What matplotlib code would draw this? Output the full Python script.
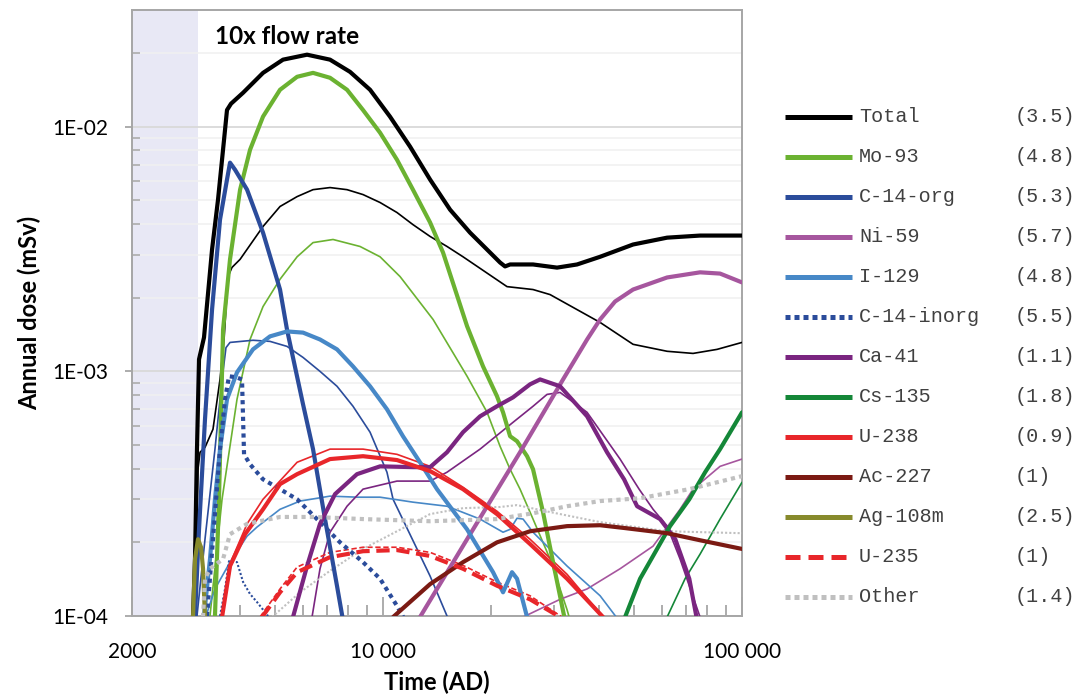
import matplotlib
matplotlib.use("Agg")
import matplotlib.pyplot as plt
from matplotlib.lines import Line2D
from matplotlib.ticker import FixedLocator, LogLocator, NullFormatter

# Annual dose per nuclide, thick = 10x flow rate case, thin = base case.
# Time in years AD, dose in mSv.
total_t = [2958, 2996, 3034, 3074, 3174, 3342, 3472, 3609, 3678, 3774, 4078, 4634, 5268, 6146, 7121,
           8096, 9206, 10460, 11900, 13530, 15380, 17480, 18640, 21190, 21880, 22600, 26180, 30540,
           34720, 40250, 49720, 61860, 76420, 100000]
total_dose = [1.0e-4, 1.71e-4, 4.81e-4, 1.12e-3, 1.377e-3, 3.15e-3, 5.03e-3, 8.85e-3, 1.17e-2, 1.242e-2,
              1.377e-2, 1.66e-2, 1.88e-2, 1.97e-2, 1.88e-2, 1.676e-2, 1.416e-2, 1.10e-2, 8.29e-3, 6.08e-3,
              4.58e-3, 3.69e-3, 3.36e-3, 2.786e-3, 2.685e-3, 2.735e-3, 2.735e-3, 2.655e-3, 2.735e-3,
              2.94e-3, 3.30e-3, 3.52e-3, 3.59e-3, 3.59e-3]
total_base_t = [2996, 3054, 3094, 3194, 3362, 3517, 3609, 3702, 3798, 4000, 4634, 5168, 5766, 6386, 7121,
                7942, 8800, 9816, 10940, 12120, 13530, 15080, 16710, 22160, 26180, 29200, 40250, 49720,
                61860, 73060, 85250, 100000]
total_base_dose = [1.0e-4, 3.98e-4, 4.67e-4, 4.89e-4, 5.80e-4, 9.27e-4, 1.35e-3, 2.44e-3, 2.66e-3, 2.87e-3,
                   3.91e-3, 4.72e-3, 5.18e-3, 5.53e-3, 5.64e-3, 5.53e-3, 5.28e-3, 4.90e-3, 4.46e-3,
                   3.98e-3, 3.56e-3, 3.24e-3, 2.94e-3, 2.22e-3, 2.16e-3, 2.06e-3, 1.585e-3, 1.29e-3,
                   1.208e-3, 1.184e-3, 1.23e-3, 1.313e-3]

mo93_t = [3405, 3494, 3586, 3750, 4000, 4264, 4634, 5168, 5766, 6386, 7121, 7942, 8800, 9816, 10940,
          12120, 13530, 14700, 17150, 19000, 20780, 21600, 22600, 23630, 25200, 26180, 27910, 29770, 32140]
mo93_dose = [1.0e-4, 3.0e-4, 1.48e-3, 2.87e-3, 5.53e-3, 8.05e-3, 1.10e-2, 1.416e-2, 1.60e-2, 1.66e-2,
             1.585e-2, 1.416e-2, 1.17e-2, 9.45e-3, 7.33e-3, 5.53e-3, 4.06e-3, 3.06e-3, 1.53e-3, 1.048e-3,
             7.91e-4, 6.8e-4, 5.43e-4, 5.18e-4, 4.50e-4, 3.98e-4, 2.66e-4, 1.66e-4, 9.6e-5]
mo93_base_t = [3298, 3563, 3922, 4264, 4634, 5168, 5766, 6386, 7260, 8632, 9816, 11160, 13790, 17150,
               19500, 21190, 22600, 24090, 26180, 29200, 32570, 33200]
mo93_base_dose = [1.0e-4, 3.0e-4, 7.69e-4, 1.35e-3, 1.84e-3, 2.38e-3, 2.94e-3, 3.36e-3, 3.46e-3, 3.24e-3,
                  2.94e-3, 2.44e-3, 1.63e-3, 9.55e-4, 6.8e-4, 4.94e-4, 3.98e-4, 3.30e-4, 2.49e-4, 1.71e-4,
                  1.06e-4, 9.6e-5]

c14org_t = [2996, 3074, 3194, 3342, 3517, 3678, 3750, 3873, 4183, 4634, 5168, 5405, 5990, 6386, 6896,
            7448, 7740]
c14org_dose = [1.0e-4, 2.26e-4, 6.37e-4, 1.79e-3, 4.17e-3, 6.08e-3, 7.13e-3, 6.67e-3, 5.53e-3, 3.69e-3,
               2.16e-3, 1.48e-3, 7.33e-4, 4.81e-4, 2.49e-4, 1.326e-4, 9.6e-5]
c14org_base_t = [3034, 3194, 3405, 3563, 3654, 3750, 4345, 4846, 5405, 5990, 6678, 7448, 8252, 9206,
                 10260, 10670, 13530, 15080]
c14org_base_dose = [1.0e-4, 2.06e-4, 4.81e-4, 9.27e-4, 1.25e-3, 1.313e-3, 1.34e-3, 1.326e-3, 1.265e-3,
                    1.14e-3, 1.0e-3, 8.69e-4, 7.20e-4, 5.64e-4, 3.87e-4, 3.0e-4, 1.456e-4, 1.0e-4]

ni59_t = [12680, 17150, 24090, 31740, 37030, 40250, 44310, 49720, 61860, 76420, 86880, 100000]
ni59_dose = [9.9e-5, 2.06e-4, 4.67e-4, 9.27e-4, 1.35e-3, 1.63e-3, 1.93e-3, 2.16e-3, 2.42e-3, 2.54e-3,
             2.51e-3, 2.31e-3]
ni59_base_t = [24560, 31140, 37030, 45750, 56540, 67220, 73060, 86880, 100000]
ni59_base_dose = [9.9e-5, 1.17e-4, 1.29e-4, 1.56e-4, 1.93e-4, 2.73e-4, 3.30e-4, 4.09e-4, 4.38e-4]

i129_t = [3174, 3298, 3405, 3517, 3678, 3922, 4345, 4846, 5405, 5990, 6678, 7448, 8252, 9206, 10260,
          11370, 12680, 14140, 17150, 20260, 21600, 22880, 23630, 25200]
i129_dose = [1.0e-4, 1.71e-4, 3.0e-4, 4.81e-4, 7.69e-4, 9.91e-4, 1.23e-3, 1.39e-3, 1.456e-3, 1.44e-3,
             1.35e-3, 1.23e-3, 1.048e-3, 8.69e-4, 7.0e-4, 5.43e-4, 4.25e-4, 3.30e-4, 2.26e-4, 1.51e-4,
             1.25e-4, 1.51e-4, 1.42e-4, 9.9e-5]
i129_base_t = [3214, 3405, 3750, 4183, 4459, 5168, 5875, 7121, 8466, 9816, 12120, 15080, 18640, 21600,
               22590, 23630, 24560, 26180, 32570, 40250, 44880]
i129_base_dose = [1.0e-4, 1.29e-4, 1.66e-4, 2.12e-4, 2.31e-4, 2.73e-4, 2.95e-4, 3.09e-4, 3.06e-4, 3.06e-4,
                  2.92e-4, 2.81e-4, 2.49e-4, 2.20e-4, 2.26e-4, 2.51e-4, 2.49e-4, 2.20e-4, 1.60e-4, 1.21e-4,
                  9.8e-5]

c14inorg_t = [3236, 3362, 3517, 3632, 3726, 3897, 4050, 4078, 4103, 4264, 4634, 5168, 5766, 6678, 7594,
              8800, 9816, 10940, 11520]
c14inorg_dose = [1.0e-4, 2.06e-4, 4.81e-4, 7.69e-4, 9.55e-4, 9.46e-4, 9.27e-4, 6.37e-4, 4.58e-4, 4.17e-4,
                 3.62e-4, 3.30e-4, 3.0e-4, 2.42e-4, 2.0e-4, 1.66e-4, 1.42e-4, 1.10e-4, 9.6e-5]
c14inorg_base_t = [3517, 3632, 3726, 3922, 4078, 4264, 4459, 4785]
c14inorg_base_dose = [1.0e-4, 1.29e-4, 1.676e-4, 1.66e-4, 1.377e-4, 1.23e-4, 1.14e-4, 1.0e-4]

ca41_t = [5616, 6146, 6678, 7355, 8466, 9816, 12120, 13530, 15080, 16710, 18640, 20780, 23030, 25680,
          27390, 31140, 37030, 42080, 46940, 51030, 59140, 65200, 71320, 74980]
ca41_dose = [9.9e-5, 1.60e-4, 2.38e-4, 3.15e-4, 3.80e-4, 4.09e-4, 4.06e-4, 4.06e-4, 4.67e-4, 5.64e-4,
             6.55e-4, 7.20e-4, 7.83e-4, 8.85e-4, 9.27e-4, 8.69e-4, 6.55e-4, 4.67e-4, 3.62e-4, 2.81e-4,
             2.49e-4, 2.06e-4, 1.42e-4, 9.6e-5]
ca41_base_t = [6345, 6678, 7121, 7942, 8800, 10940, 13530, 15080, 18640, 23030, 26180, 28640, 31140,
               37030, 45750, 51690, 56540, 61860, 67220, 76420]
ca41_base_dose = [9.9e-5, 1.56e-4, 2.20e-4, 2.81e-4, 3.30e-4, 3.56e-4, 3.56e-4, 3.87e-4, 4.81e-4, 6.19e-4,
                  7.20e-4, 8.05e-4, 8.20e-4, 6.8e-4, 4.38e-4, 3.30e-4, 2.73e-4, 2.33e-4, 1.71e-4, 9.9e-5]

cs135_t = [47240, 52010, 56540, 63040, 71320, 78940, 86880, 100000]
cs135_dose = [9.9e-5, 1.42e-4, 1.76e-4, 2.33e-4, 3.0e-4, 3.87e-4, 4.81e-4, 6.8e-4]
cs135_base_t = [61860, 69410, 76420, 86880, 100000]
cs135_base_dose = [9.9e-5, 1.42e-4, 1.79e-4, 2.49e-4, 3.52e-4]

u238_t = [3563, 3750, 4129, 4634, 5168, 5766, 7121, 8800, 10940, 13530, 16710, 20780, 25680, 32570, 41020]
u238_dose = [9.9e-5, 1.60e-4, 2.16e-4, 2.73e-4, 3.46e-4, 3.80e-4, 4.38e-4, 4.50e-4, 4.34e-4, 3.91e-4,
             3.30e-4, 2.61e-4, 1.97e-4, 1.42e-4, 9.9e-5]
u238_base_t = [3563, 3798, 4183, 4634, 5766, 7121, 8800, 10940, 13530, 16710, 20780, 25680, 32570, 41020]
u238_base_dose = [9.9e-5, 1.71e-4, 2.38e-4, 3.0e-4, 4.25e-4, 4.81e-4, 4.81e-4, 4.58e-4, 4.09e-4, 3.36e-4,
                  2.68e-4, 2.06e-4, 1.48e-4, 9.9e-5]

ac227_t = [10670, 13530, 16710, 20780, 25680, 32570, 40250, 46940, 61860, 76420, 100000]
ac227_dose = [9.9e-5, 1.35e-4, 1.66e-4, 2.0e-4, 2.22e-4, 2.33e-4, 2.35e-4, 2.29e-4, 2.18e-4, 2.04e-4,
              1.88e-4]

ag108m_t = [2958, 2996, 3054, 3114, 3154, 3194]
ag108m_dose = [9.9e-5, 1.71e-4, 2.06e-4, 1.91e-4, 1.56e-4, 9.9e-5]

u235_t = [4605, 5168, 5766, 7121, 8800, 10940, 13530, 16710, 20780, 25680, 31140]
u235_dose = [9.9e-5, 1.25e-4, 1.51e-4, 1.74e-4, 1.84e-4, 1.86e-4, 1.76e-4, 1.56e-4, 1.33e-4, 1.17e-4,
             9.9e-5]
u235_base_t = [4545, 5168, 5766, 7121, 8800, 10940, 13530, 16710, 20780, 25680, 31540]
u235_base_dose = [9.9e-5, 1.29e-4, 1.585e-4, 1.82e-4, 1.91e-4, 1.91e-4, 1.82e-4, 1.61e-4, 1.377e-4,
                  1.21e-4, 9.9e-5]

other_t = [3154, 3194, 3298, 3586, 3750, 4183, 5168, 6386, 8800, 13530, 20780, 26180, 32570, 40250,
           52010, 71320, 100000]
other_dose = [9.9e-5, 1.42e-4, 1.56e-4, 1.71e-4, 2.16e-4, 2.38e-4, 2.54e-4, 2.54e-4, 2.49e-4, 2.44e-4,
              2.49e-4, 2.63e-4, 2.81e-4, 2.95e-4, 3.03e-4, 3.30e-4, 3.73e-4]
other_base_t = [4909, 5875, 7121, 8800, 10940, 13530, 16710, 21190, 23630, 29200, 40250, 61860, 100000]
other_base_dose = [9.9e-5, 1.25e-4, 1.53e-4, 1.88e-4, 2.22e-4, 2.61e-4, 2.76e-4, 2.79e-4, 2.84e-4,
                   2.66e-4, 2.42e-4, 2.22e-4, 2.18e-4]

names = ["Total", "Mo-93", "C-14-org", "Ni-59", "I-129", "C-14-inorg", "Ca-41", "Cs-135",
         "U-238", "Ac-227", "Ag-108m", "U-235", "Other"]
legend_values = [3.5, 4.8, 5.3, 5.7, 4.8, 5.5, 1.1, 1.8, 0.9, 1, 2.5, 1, 1.4]
colors = ["#000000", "#6BB231", "#2B4C9B", "#A6569E", "#4788C7", "#2B4C9B", "#7A2580", "#148738",
          "#E8262A", "#7B1A13", "#878A2C", "#E8262A", "#C0C0C0"]
styles = ["-", "-", "-", "-", "-", "dot", "-", "-", "-", "-", "-", "dash", "dot"]

thick = [(total_t, total_dose), (mo93_t, mo93_dose), (c14org_t, c14org_dose), (ni59_t, ni59_dose),
         (i129_t, i129_dose), (c14inorg_t, c14inorg_dose), (ca41_t, ca41_dose), (cs135_t, cs135_dose),
         (u238_t, u238_dose), (ac227_t, ac227_dose), (ag108m_t, ag108m_dose), (u235_t, u235_dose),
         (other_t, other_dose)]
thin = [(total_base_t, total_base_dose), (mo93_base_t, mo93_base_dose),
        (c14org_base_t, c14org_base_dose), (ni59_base_t, ni59_base_dose),
        (i129_base_t, i129_base_dose), (c14inorg_base_t, c14inorg_base_dose),
        (ca41_base_t, ca41_base_dose), (cs135_base_t, cs135_base_dose),
        (u238_base_t, u238_base_dose), None, None, (u235_base_t, u235_base_dose),
        (other_base_t, other_base_dose)]

EARLY_END = 3050  # end of the shaded early period
W, H = 1078, 698
SANS = ["Lato", "DejaVu Sans"]
MONO = ["Liberation Mono", "DejaVu Sans Mono"]


def dash_for(style):
    if style == "dot":
        return (0, (1.0, 1.0))
    if style == "dash":
        return (0, (3.2, 1.6))
    return "-"


fig = plt.figure(figsize=(W / 100, H / 100), dpi=100)
ax = fig.add_axes([132 / W, 1 - 616 / H, 610 / W, 606 / H])
ax.set_xscale("log")
ax.set_yscale("log")
ax.set_xlim(2000, 100000)
ax.set_ylim(1e-4, 0.03)

ax.axvspan(2000, EARLY_END, color="#E8E8F5", zorder=1.5, lw=0)

ax.yaxis.set_minor_locator(LogLocator(base=10, subs=range(2, 10)))
ax.yaxis.set_minor_formatter(NullFormatter())
ax.set_yticks([1e-4, 1e-3, 1e-2])
ax.set_yticklabels(["1E-04", "1E-03", "1E-02"])
ax.grid(True, which="major", axis="y", color="#D9D9D9", lw=1.3, zorder=1)
ax.grid(True, which="minor", axis="y", color="#F0F0F0", lw=1.1, zorder=1)

ax.xaxis.set_major_locator(FixedLocator([2000, 10000, 100000]))
ax.set_xticklabels(["2000", "10 000", "100 000"])
ax.xaxis.set_minor_locator(LogLocator(base=10, subs=range(2, 10)))
ax.xaxis.set_minor_formatter(NullFormatter())

for lab in ax.get_xticklabels() + ax.get_yticklabels():
    lab.set_fontfamily(SANS)
    lab.set_fontsize(15)

ax.tick_params(axis="x", which="major", direction="in", length=14, width=1.3, color="#A6A6A6", pad=19)
ax.tick_params(axis="x", which="minor", direction="in", length=8, width=1.3, color="#A6A6A6")
ax.tick_params(axis="y", which="major", direction="out", length=5, width=1.3, color="#A6A6A6", pad=12)
ax.tick_params(axis="y", which="minor", direction="in", length=6, width=1.1, color="#A6A6A6")
for sp in ax.spines.values():
    sp.set_color("#A6A6A6")
    sp.set_linewidth(1.4)

for series, c, s in zip(thin, colors, styles):
    if series is None:
        continue
    lw = 1.5 if s == "dot" else 1.2
    ax.plot(series[0], series[1], color=c, lw=lw, ls=dash_for(s), zorder=3,
            solid_capstyle="round", solid_joinstyle="round", dash_capstyle="butt")
for series, c, s in zip(thick, colors, styles):
    ax.plot(series[0], series[1], color=c, lw=3.0, ls=dash_for(s), zorder=4,
            solid_capstyle="round", solid_joinstyle="round", dash_capstyle="butt")

ax.text((215 - 132) / 610, (616 - 37) / 606, "10x flow rate", transform=ax.transAxes,
        fontsize=17.5, fontweight="bold", family=SANS, va="center", ha="left", zorder=6)

ax.set_xlabel("Time (AD)", fontsize=17, fontweight="bold", family=SANS, labelpad=6)
ax.set_ylabel("Annual dose (mSv)", fontsize=17, fontweight="bold", family=SANS, labelpad=8)

# legend drawn at fixed pixel rows on the right
for i, (name, val, c, s) in enumerate(zip(names, legend_values, colors, styles)):
    yy = 1 - (117 + 40 * i) / H
    ls = "-"
    if s == "dot":
        ls = (0, (1.0, 0.8))
    elif s == "dash":
        ls = (0, (3.0, 1.6))
    fig.add_artist(Line2D([785 / W, 852 / W], [yy, yy], color=c, lw=3.6, ls=ls,
                          solid_capstyle="butt", dash_capstyle="butt", transform=fig.transFigure))
    fig.text(859 / W, yy, name, fontsize=14.5, family=MONO, color="#404040", va="center", ha="left")
    fig.text(1015 / W, yy, f"({val:g})", fontsize=14.5, family=MONO, color="#404040",
             va="center", ha="left")

fig.savefig("out.png", dpi=100)
